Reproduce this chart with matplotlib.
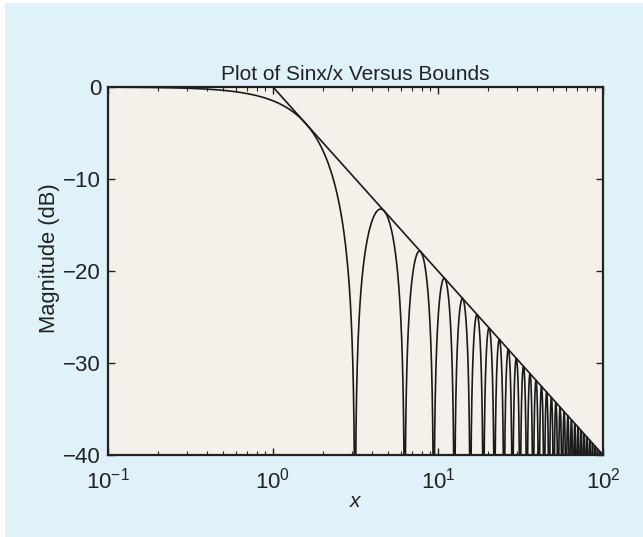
import numpy as np
import matplotlib
matplotlib.use("Agg")
import matplotlib.pyplot as plt
import matplotlib.ticker as ticker
from matplotlib.patches import Rectangle

plt.rcParams['font.family'] = ['Liberation Sans', 'DejaVu Sans']
plt.rcParams['mathtext.fontset'] = 'custom'
plt.rcParams['mathtext.rm'] = 'Liberation Sans'
plt.rcParams['mathtext.it'] = 'Liberation Sans:italic'

# sweep of the plot (x on a log axis, 0.1 .. 100)
X_START = 0.1
X_STOP = 100.0
N_POINTS = 40000

X_TICKS = [0.1, 1, 10, 100]
X_TICKLABELS = [r'$10^{-1}$', r'$10^{0}$', r'$10^{1}$', r'$10^{2}$']
Y_TICKS = [0, -10, -20, -30, -40]

TITLE = "Plot of Sinx/x Versus Bounds"
XLABEL = "x"
YLABEL = "Magnitude (dB)"

x = np.linspace(X_START, X_STOP, N_POINTS)
sinc_db = 20 * np.log10(np.abs(np.sin(x) / x) + 1e-12)
bound_db = np.minimum(0, -20 * np.log10(x))

fig = plt.figure(figsize=(6.43, 5.37), dpi=100, facecolor='white')
# light blue panel behind the plot (thin white strip top/left)
fig.patches.append(Rectangle((5 / 643, 0), 1, 1 - 3 / 537, transform=fig.transFigure,
                             facecolor='#dff1f9', edgecolor='none', zorder=-1))

ax = fig.add_axes([108 / 643, 1 - 455 / 537, (603 - 108) / 643, (455 - 87) / 537])
ax.set_facecolor('#f5f1ea')

ax.plot(x, sinc_db, color='#1a1a1a', lw=1.2)
ax.plot(x, bound_db, color='#1a1a1a', lw=1.2)

ax.set_xscale('log')
ax.set_xlim(X_START, X_STOP)
ax.set_ylim(-40, 0)
ax.set_xticks(X_TICKS)
ax.set_xticklabels(X_TICKLABELS)
ax.xaxis.set_minor_locator(ticker.LogLocator(base=10, subs=np.arange(2, 10)))
ax.xaxis.set_minor_formatter(ticker.NullFormatter())
ax.set_yticks(Y_TICKS)

ax.tick_params(which='both', direction='in', top=True, right=True,
               labelsize=16, colors='#222222')
ax.tick_params(axis='y', pad=5)
ax.tick_params(axis='x', pad=9)
ax.tick_params(which='major', length=5, width=1)
ax.tick_params(which='minor', length=3, width=0.8)
for s in ax.spines.values():
    s.set_linewidth(1.6)
    s.set_color('#222222')

ax.set_title(TITLE, fontsize=15, color='#222222', pad=5)
ax.set_xlabel(XLABEL, fontsize=15, style='italic', color='#222222', labelpad=-1)
ax.set_ylabel(YLABEL, fontsize=15.8, color='#222222')
ax.yaxis.set_label_coords(-0.097, 0.535)

fig.savefig('out.png', dpi=100)
